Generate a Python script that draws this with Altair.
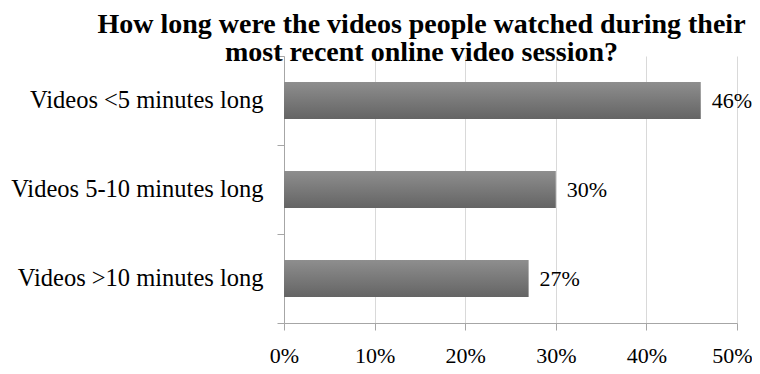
import altair as alt
import pandas as pd

categories = ["Videos <5 minutes long", "Videos 5-10 minutes long", "Videos >10 minutes long"]
values = [0.46, 0.30, 0.27]
x_ticks = [0, 0.1, 0.2, 0.3, 0.4, 0.5]

df = pd.DataFrame({"category": categories, "value": values})

FONT = "Liberation Serif"

grad = alt.Gradient(
    gradient="linear",
    stops=[alt.GradientStop(color="#8e8e8e", offset=0),
           alt.GradientStop(color="#646464", offset=1)],
    x1=0, x2=0, y1=0, y2=1,
)

y_enc = alt.Y(
    "category:N", sort=categories, title=None,
    scale=alt.Scale(paddingInner=0, paddingOuter=0),
    axis=alt.Axis(
        labelFont=FONT, labelFontSize=24.5, labelColor="black",
        tickBand="extent", tickSize=7, tickColor="#a6a6a6",
        domainColor="#a6a6a6", labelPadding=14, grid=False,
        labelLimit=400,
    ),
)
x_enc = alt.X(
    "value:Q", title=None,
    scale=alt.Scale(domain=[0, 0.5], nice=False),
    axis=alt.Axis(
        values=x_ticks, format=".0%", labelFont=FONT, labelFontSize=22,
        labelColor="black", tickSize=7, tickColor="#a6a6a6",
        domainColor="#a6a6a6", gridColor="#d9d9d9", labelPadding=15,
        labelFlush=False,
        labelOffset={"condition": {"test": "datum.value >= 0.5", "value": -5}, "value": 0},
    ),
)

bars = alt.Chart(df).mark_bar(size=37, color=grad).encode(x=x_enc, y=y_enc)
labels = alt.Chart(df).mark_text(
    align="left", baseline="middle", dx=11, font=FONT, fontSize=22, color="black"
).encode(x="value:Q", y=alt.Y("category:N", sort=categories), text=alt.Text("value:Q", format=".0%"))

chart = (bars + labels).properties(
    width=453, height=267,
    title=alt.TitleParams(
        text=["How long were the videos people watched during their",
              "most recent online video session?"],
        font=FONT, fontSize=28, fontWeight="bold", color="black",
        anchor="middle", dx=-89, dy=28, offset=4, lineHeight=28,
    ),
    autosize=alt.AutoSizeParams(type="none"),
    padding={"left": 276, "top": 48, "right": 15, "bottom": 43},
).configure_view(stroke=None)

chart.save("out.html", embed_options={"renderer": "svg", "actions": False})
